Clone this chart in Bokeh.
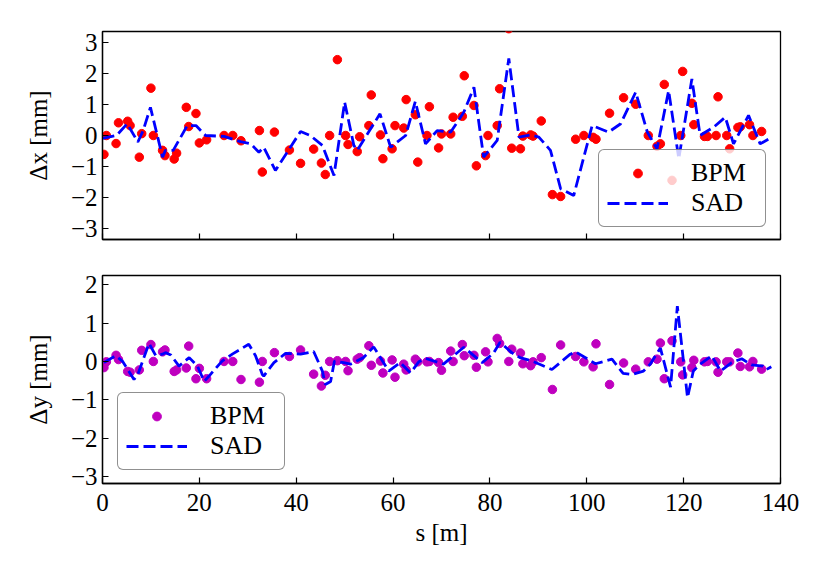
from bokeh.plotting import figure
from bokeh.models import ColumnDataSource, Legend, LegendItem, FixedTicker
from bokeh.layouts import column
from bokeh.embed import file_html
from bokeh.resources import INLINE

# ---------------- data ----------------
s_bpm = [0.3, 0.8, 2.8, 3.3, 5.2, 5.7, 7.6, 8.1, 10.0, 10.5,
         12.4, 12.9, 14.8, 15.3, 17.3, 17.8, 19.3, 20.0, 21.5, 25.1,
         26.9, 28.6, 32.4, 33.0, 35.5, 38.6, 40.9, 43.6, 45.2, 46.0,
         46.9, 48.5, 50.2, 50.7, 52.6, 53.1, 55.0, 55.5, 57.4, 57.9,
         59.8, 60.4, 62.2, 62.7, 64.6, 65.1, 67.0, 67.5, 69.4, 70.0,
         71.9, 72.4, 74.3, 74.7, 76.7, 77.2, 79.1, 79.6, 81.5, 82.0,
         83.9, 84.5, 86.3, 86.8, 88.4, 88.9, 90.6, 92.9, 94.6, 97.7,
         99.4, 101.3, 101.9, 104.7, 107.6, 110.1, 112.7, 114.5, 115.2, 116.0,
         117.6, 119.4, 119.8, 121.7, 122.1, 124.3, 124.9, 126.7, 127.1, 128.9,
         129.5, 131.2, 131.7, 133.6, 134.3, 136.1]

dx_bpm = [-0.61, 0.0, -0.26, 0.41, 0.46, 0.32, -0.70, 0.06, 1.53, 0.0,
          -0.48, -0.65, -0.76, -0.57, 0.91, 0.29, 0.71, -0.24, -0.14, 0.0,
          0.0, -0.17, 0.16, -1.18, 0.11, -0.47, -0.90, -0.44, -0.89, -1.26,
          0.0, 2.45, 0.0, -0.29, -0.52, -0.04, 0.32, 1.31, 0.02, -0.75,
          -0.43, 0.32, 0.24, 1.16, 0.67, -0.86, 0.0, 0.93, -0.40, 0.05,
          0.05, 0.59, 0.62, 1.93, 0.97, -0.98, -0.65, 0.0, 0.32, 1.51,
          3.45, -0.41, -0.43, -0.02, 0.02, -0.02, 0.47, -1.91, -1.97, -0.12,
          0.0, -0.06, -0.12, 0.72, 1.22, 1.01, 0.0, -0.35, -0.27, 1.65,
          -1.45, 0.0, 2.07, 1.04, 0.35, -0.03, -0.03, 0.0, 1.25, 0.0,
          -0.43, 0.26, 0.28, 0.35, 0.0, 0.13]

dy_bpm = [-0.16, -0.01, 0.16, 0.05, -0.26, -0.28, -0.22, 0.29, 0.44, 0.0,
          0.25, 0.30, -0.26, -0.22, -0.17, 0.40, -0.45, -0.18, -0.45, 0.0,
          0.0, -0.47, -0.54, 0.0, 0.23, 0.13, 0.30, -0.33, -0.64, -0.36,
          0.0, 0.02, 0.0, -0.24, 0.06, 0.10, 0.41, -0.10, 0.01, -0.30,
          0.04, -0.41, -0.07, -0.22, 0.06, -0.01, -0.01, 0.0, -0.03, -0.23,
          0.27, 0.0, 0.44, 0.15, 0.16, -0.15, 0.25, -0.01, 0.60, 0.47,
          0.0, 0.32, 0.22, -0.06, -0.11, -0.01, 0.10, -0.73, 0.43, 0.13,
          -0.01, -0.14, 0.46, -0.60, -0.04, -0.20, -0.01, 0.06, 0.48, -0.45,
          0.54, -0.01, -0.35, -0.16, 0.03, -0.01, 0.0, -0.01, -0.28, -0.01,
          -0.01, 0.22, -0.13, -0.14, 0.0, -0.20]

s_sad_x = [0.0, 2.9, 5.1, 7.3, 8.4, 9.9, 12.4, 13.0, 14.6, 17.5,
           19.3, 21.3, 25.1, 28.5, 30.6, 32.3, 33.3, 35.7, 40.9, 42.9,
           45.4, 47.8, 50.0, 51.9, 52.6, 57.3, 59.5, 62.6, 64.6, 66.7,
           69.1, 71.9, 74.6, 76.7, 78.7, 81.5, 83.9, 86.0, 88.4, 90.1,
           92.5, 94.6, 97.3, 101.1, 104.5, 107.0, 110.1, 112.5, 114.5, 116.9,
           119.0, 121.7, 123.4, 126.2, 128.6, 130.3, 133.4, 135.8, 138.3]
dx_sad = [-0.09, 0.0, 0.38, -0.21, 0.16, 0.91, -0.70, -0.48, -0.48, 0.32,
          0.32, 0.0, -0.03, -0.20, -0.27, -0.54, -0.38, -1.13, 0.13, 0.0,
          -0.32, -1.29, 1.08, -0.32, -0.48, 0.70, -0.38, 0.0, 1.10, -0.27,
          0.16, 0.11, 0.75, 1.56, -0.70, -0.16, 2.49, -0.05, 0.02, -0.05,
          -0.48, -1.72, -1.94, 0.32, 0.11, 0.38, 1.40, 0.11, -0.43, 1.45,
          -0.75, 1.83, 0.0, 0.27, 0.59, -0.27, 0.65, -0.27, -0.05]

s_sad_y = [0.3, 2.7, 4.1, 6.5, 7.3, 9.6, 11.0, 12.4, 13.0, 14.1,
           15.8, 17.9, 19.6, 21.0, 22.0, 24.7, 26.8, 30.2, 31.6, 33.0,
           33.3, 35.4, 37.8, 40.9, 43.6, 45.4, 46.0, 47.1, 47.9, 49.8,
           51.2, 53.9, 56.0, 59.1, 61.5, 63.6, 65.3, 66.7, 70.4, 74.6,
           78.4, 80.7, 82.1, 84.5, 86.2, 88.7, 91.1, 92.8, 94.5, 96.6,
           97.7, 101.8, 105.2, 107.5, 109.3, 111.7, 113.1, 115.2, 117.3, 118.7,
           120.8, 122.0, 123.4, 125.8, 127.6, 129.9, 132.0, 134.0, 136.4, 137.1,
           138.1]
dy_sad = [-0.03, 0.15, 0.01, -0.47, -0.34, 0.47, 0.15, 0.19, 0.23, 0.17,
          -0.12, 0.10, -0.12, -0.52, -0.38, 0.01, 0.19, 0.45, 0.15, -0.34,
          -0.38, -0.03, 0.21, 0.19, 0.26, -0.25, -0.60, -0.52, 0.01, -0.03,
          -0.07, 0.10, 0.38, -0.25, -0.03, -0.30, -0.01, 0.08, -0.07, 0.37,
          -0.03, 0.21, 0.50, 0.23, 0.10, 0.01, -0.12, -0.21, -0.03, 0.19,
          0.25, -0.06, 0.06, -0.31, -0.34, -0.25, -0.07, 0.35, -0.67, 1.44,
          -0.94, -0.25, -0.07, 0.15, -0.25, -0.03, 0.07, -0.09, -0.12, -0.21,
          -0.14]

x_ticks = [0, 20, 40, 60, 80, 100, 120, 140]
y_ticks_top = [-3, -2, -1, 0, 1, 2, 3]
y_ticks_bot = [-3, -2, -1, 0, 1, 2]

FONT = "Liberation Serif, serif"
TICK_FS = "25px"
LABEL_FS = "25px"
LEG_FS = "26px"


def minus_overrides(ticks):
    return {t: (str(t) if t >= 0 else "\u2212" + str(-t)) for t in ticks}


def style(p, yticks):
    p.xgrid.visible = False
    p.ygrid.visible = False
    p.outline_line_color = "black"
    p.outline_line_width = 1.3
    p.background_fill_color = "white"
    p.border_fill_color = "white"
    for ax in (p.xaxis[0], p.yaxis[0]):
        ax.axis_line_color = "black"
        ax.axis_line_width = 1.3
        ax.major_tick_in = 6
        ax.major_tick_out = 0
        ax.major_tick_line_color = "black"
        ax.major_tick_line_width = 1.2
        ax.minor_tick_line_color = None
        ax.major_label_text_font = FONT
        ax.major_label_text_font_size = TICK_FS
        ax.major_label_text_color = "black"
        ax.axis_label_text_font = FONT
        ax.axis_label_text_font_size = LABEL_FS
        ax.axis_label_text_font_style = "normal"
        ax.axis_label_text_color = "black"
    p.xaxis.ticker = FixedTicker(ticks=x_ticks)
    p.yaxis.ticker = FixedTicker(ticks=yticks)
    p.yaxis.major_label_overrides = minus_overrides(yticks)
    p.yaxis.major_label_standoff = 5
    p.yaxis.axis_label_standoff = 16


def make_legend(p, r_pts, r_line, loc):
    leg = Legend(items=[LegendItem(label="BPM", renderers=[r_pts]),
                        LegendItem(label="SAD", renderers=[r_line])],
                 location=loc)
    leg.label_text_font = FONT
    leg.label_text_font_size = LEG_FS
    leg.label_text_color = "black"
    leg.glyph_width = 61
    leg.glyph_height = 22
    leg.label_height = 22
    leg.label_width = 66
    leg.label_standoff = 23
    leg.padding = 8
    leg.spacing = 0
    leg.margin = 0
    leg.border_line_color = "#222222"
    leg.border_line_width = 1.3
    leg.border_radius = 6
    leg.background_fill_color = "white"
    leg.background_fill_alpha = 0.8
    p.add_layout(leg)


# ---------------- top panel ----------------
src_bpm = ColumnDataSource(dict(s=s_bpm, dx=dx_bpm, dy=dy_bpm))
src_sx = ColumnDataSource(dict(s=s_sad_x, v=dx_sad))
src_sy = ColumnDataSource(dict(s=s_sad_y, v=dy_sad))

p1 = figure(frame_width=678, frame_height=208,
            x_range=(0, 140), y_range=(-3.36, 3.36),
            output_backend="svg", toolbar_location=None,
            min_border_left=102, min_border_right=28,
            min_border_top=31, min_border_bottom=10)
r1 = p1.scatter("s", "dx", source=src_bpm, size=8.5, color="#ff0000")
l1 = p1.line("s", "v", source=src_sx, line_color="#0000ff", line_width=2.8,
             line_dash="12 5")
style(p1, y_ticks_top)
p1.yaxis.axis_label = "\u0394x [mm]"
p1.xaxis.major_label_text_font_size = "1px"
p1.xaxis.major_label_text_color = None
p1.xaxis.major_label_standoff = 0
make_legend(p1, r1, l1, (496, 12))

# ---------------- bottom panel ----------------
p2 = figure(frame_width=678, frame_height=208,
            x_range=(0, 140), y_range=(-3.18, 2.24),
            output_backend="svg", toolbar_location=None,
            min_border_left=102, min_border_right=28,
            min_border_top=26, min_border_bottom=62)
r2 = p2.scatter("s", "dy", source=src_bpm, size=8.5, color="#bf00bf")
l2 = p2.line("s", "v", source=src_sy, line_color="#0000ff", line_width=2.8,
             line_dash="12 5")
style(p2, y_ticks_bot)
p2.yaxis.axis_label = "\u0394y [mm]"
p2.xaxis.axis_label = "s [m]"
p2.xaxis.major_label_standoff = 10
p2.xaxis.axis_label_standoff = 5
make_legend(p2, r2, l2, (15, 13))

layout = column(p1, p2, spacing=0)
open("out.html", "w").write(file_html(layout, INLINE))
